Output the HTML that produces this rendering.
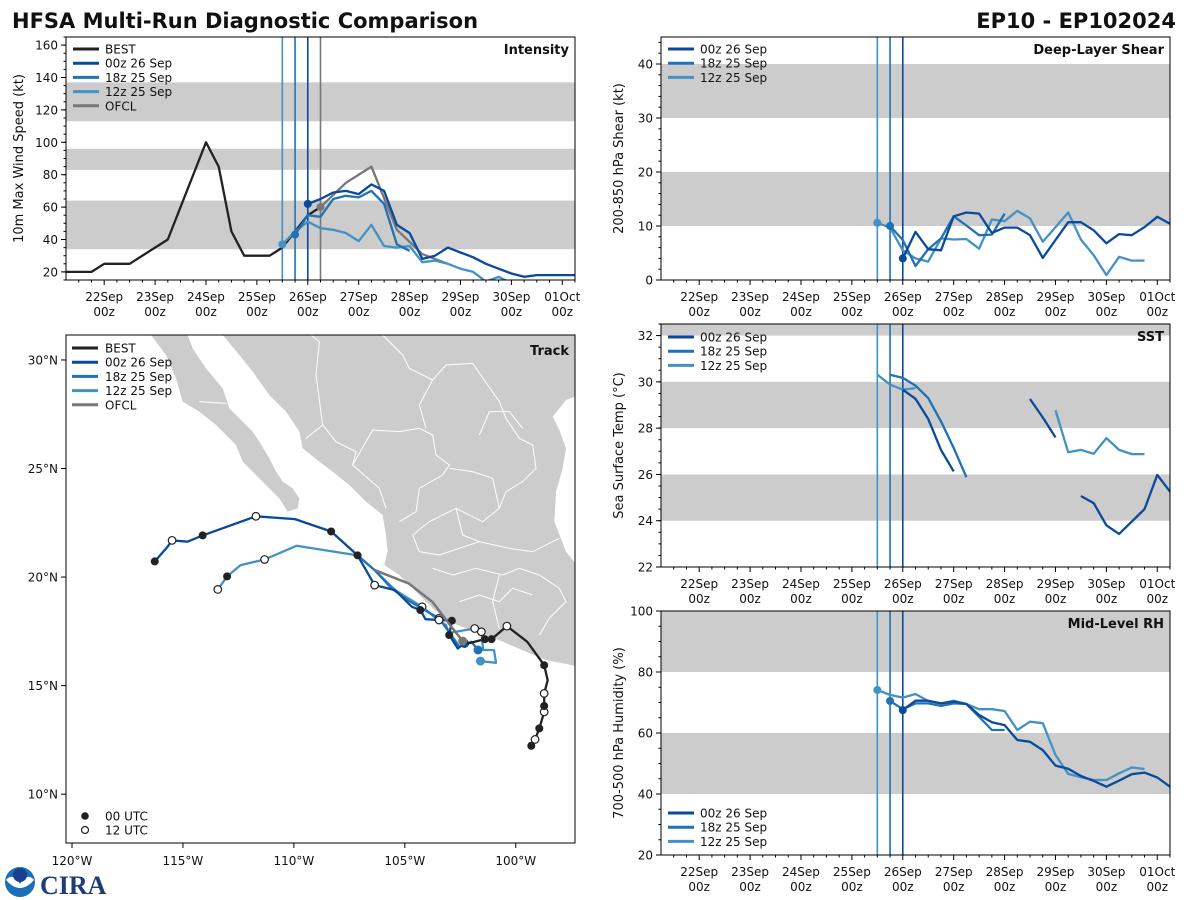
<!DOCTYPE html>
<html><head><meta charset="utf-8"><style>
html,body{margin:0;padding:0;background:#fff;}
svg{display:block;font-family:"DejaVu Sans","Liberation Sans",sans-serif;}
</style></head><body>
<svg id="fig" width="1200" height="900" viewBox="0 0 1200 900" xmlns="http://www.w3.org/2000/svg">
<text x="12" y="28" font-size="21" font-weight="bold" fill="#111">HFSA Multi-Run Diagnostic Comparison</text>
<text x="1176" y="28" font-size="21" font-weight="bold" fill="#111" text-anchor="end">EP10 - EP102024</text>
<g>
<circle cx="20" cy="882" r="15" fill="#1a6fb8"/>
<path d="M6 880 Q20 896 34 880 Q27 872 20 884 Q13 872 6 880Z" fill="#fff"/>
<circle cx="20" cy="875" r="7" fill="#1b3f8f"/>
<text x="40" y="894" font-size="26" font-weight="bold" fill="#1d3c7a" font-family="Liberation Serif,serif">CIRA</text>
</g>
<g id="layers"></g>
</svg>
<script>
// ---------- DATA ----------
const runNames = ["00z 26 Sep","18z 25 Sep","12z 25 Sep"];
const runColors = ["#0a4a9b","#2171b5","#4292c6"];
const runInitH = [96,90,84];
const ofclInitH = 102;
const dayLabels = ["22Sep","23Sep","24Sep","25Sep","26Sep","27Sep","28Sep","29Sep","30Sep","01Oct"];

const bestIntH = [-18,-6,0,12,30,48,54,60,66,78,84,96,102];
const bestIntV = [20,20,25,25,40,100,85,45,30,30,35,55,60];
const ofclIntH = [102,114,126,138,150,162];
const ofclIntV = [60,75,85,46,31,25];
const int00H = [96,102,108,114,120,126,132,138,144,150,156,162,168,174,180,186,192,198,204,222];
const int00V = [62,65,69,70,68,74,70,49,44,28,30,35,32,29,25,22,19,17,18,18];
const int18H = [90,96,102,108,114,120,126,132,138,144];
const int18V = [43,55,54,65,67,66,70,62,37,33];
const int12H = [84,90,96,102,108,114,120,126,132,138,144,150,156,162,168,174,180,186,192];
const int12V = [37,45,51,47,46,44,39,49,36,35,36,26,27,25,22,20,14,17,13];

const shr00H = [96,102,108,114,120,126,132,138,144,150,156,162,168,174,180,186,192,198,204,210,216,222];
const shr00V = [4.0,8.9,5.7,5.5,11.8,12.5,12.3,8.7,9.7,9.7,8.3,4.1,7.4,10.7,10.7,9.2,6.8,8.5,8.3,9.8,11.7,10.4];
const shr18H = [90,96,102,108,114,120,126,132,138,144];
const shr18V = [10.0,7.4,2.6,5.7,7.7,11.8,10.1,8.3,8.4,12.3];
const shr12H = [84,90,96,102,108,114,120,126,132,138,144,150,156,162,168,174,180,186,192,198,204,210];
const shr12V = [10.6,9.7,5.5,4.0,3.4,7.7,7.5,7.6,5.8,11.2,10.9,12.8,11.4,7.1,9.8,12.5,7.5,4.6,0.9,4.3,3.6,3.6];

const sst00H = [96,102,108,114,120,126,132,138,144,150,156,162,168,174,180,186,192,198,204,210,216,222];
const sst00V = [29.66,29.27,28.4,27.06,26.13,null,null,null,null,null,29.26,28.46,27.6,null,25.07,24.76,23.8,23.43,23.96,24.5,25.98,25.26];
const sst18H = [90,96,102,108,114,120,126];
const sst18V = [30.31,30.17,29.84,29.3,28.29,27.14,25.88];
const sst12H = [84,90,96,102,108,114,120,126,132,138,144,150,156,162,168,174,180,186,192,198,204,210];
const sst12V = [30.31,29.88,29.66,29.73,null,null,null,null,null,null,null,null,null,null,28.77,26.96,27.06,26.89,27.57,27.06,26.88,26.88];

const rh00H = [96,102,108,114,120,126,132,138,144,150,156,162,168,174,180,186,192,198,204,210,216,222];
const rh00V = [67.5,70.6,70.6,69.7,70.3,69.5,65.9,63.5,62.6,57.7,57.1,54.4,49.3,48.3,45.9,44.3,42.4,44.4,46.5,47,45.4,42.4];
const rh18H = [90,96,102,108,114,120,126,132,138,144];
const rh18V = [70.5,67.8,69.7,69.7,68.9,69.7,69.5,65.3,61,61];
const rh12H = [84,90,96,102,108,114,120,126,132,138,144,150,156,162,168,174,180,186,192,198,204,210];
const rh12V = [74.1,72.5,71.6,72.8,70.5,69.7,70.6,69.5,67.8,67.8,67.2,61,63.7,63.2,52.8,46.6,45.5,44.6,44.6,46.8,48.7,48.2];

const bestLon = [-99.30,-99.13,-98.94,-98.72,-98.72,-98.72,-98.56,-98.72,-99.48,-100.4,-101.09,-101.39,-102.16,-102.39];
const bestLat = [12.23,12.52,13.03,13.79,14.06,14.64,15.25,15.94,17.02,17.74,17.14,17.14,16.94,17.05];
const bestMk = ["f","o","f","o","f","o","","f","","o","f","f","","f"];
const trk00Lon = [-102.31,-102.61,-103.0,-102.88,-103.46,-104.07,-104.30,-104.68,-105.44,-106.36,-107.13,-108.32,-109.95,-111.71,-114.11,-114.8,-115.49,-115.69,-116.27];
const trk00Lat = [16.94,16.71,17.33,17.99,18.02,18.06,18.48,18.63,19.4,19.63,21.0,22.1,22.67,22.8,21.92,21.63,21.69,21.4,20.72];
const trk00Mk = ["s","","f","f","o","","f","","","o","f","f","","o","f","","o","","f"];
const trk18Lon = [-101.7,-102.0,-102.54,-103.07,-103.46,-104.37,-104.99,-105.6,-106.36,-107.13];
const trk18Lat = [16.64,17.02,16.79,17.56,18.1,18.63,19.02,19.48,20.32,21.0];
const trk18Mk = ["s","","","","o","","","","",""];
const trk12Lon = [-101.59,-100.89,-100.98,-101.47,-101.55,-101.85,-103.0,-103.15,-103.46,-104.22,-105.44,-106.36,-107.13,-109.88,-111.32,-112.4,-113.01,-113.43];
const trk12Lat = [16.13,16.05,16.64,16.64,17.48,17.63,17.43,17.79,17.99,18.63,19.4,20.32,21.0,21.44,20.81,20.55,20.03,19.43];
const trk12Mk = ["s","","","","o","o","","","","o","","","","","o","","f","o"];
const ofclLon = [-102.39,-102.84,-103.76,-104.83,-106.36];
const ofclLat = [17.05,17.63,18.86,19.71,20.32];
const lonTicks = [-120,-115,-110,-105,-100];
const latTicks = [10,15,20,25,30];

// ---------- HELPERS ----------
const NS = "http://www.w3.org/2000/svg";
const root = document.getElementById("layers");
function mk(tag, attrs, parent){
  const e = document.createElementNS(NS, tag);
  for (const k in attrs) e.setAttribute(k, attrs[k]);
  (parent||root).appendChild(e);
  return e;
}
function txt(x,y,s,size,parent,anchor,weight){
  const t = mk("text",{x:x,y:y,"font-size":size,fill:"#111","text-anchor":anchor||"start","font-weight":weight||"normal"},parent);
  t.textContent = s;
  return t;
}

function tsPanel(cfg){
  const g = mk("g",{});
  
  
  const X0=cfg.x0,X1=cfg.x1,Y0=cfg.y0,Y1=cfg.y1;
  const xs = h => X0 + (h + 18) * (X1 - X0) / 240;
  const ys = v => Y1 - (v - cfg.ymin) * (Y1 - Y0) / (cfg.ymax - cfg.ymin);
  const cid = "clip-" + cfg.name;
  const cp = mk("clipPath",{id:cid},g);
  mk("rect",{x:X0,y:Y0,width:X1-X0,height:Y1-Y0},cp);
  cfg.bands.forEach(b=>{
    const r = mk("rect",{x:X0,y:ys(Math.min(b[1],cfg.ymax)),width:X1-X0,height:ys(b[0])-ys(Math.min(b[1],cfg.ymax)),fill:"#cccccc"},g);
    
    
  });
  const inner = mk("g",{"clip-path":"url(#"+cid+")"},g);
  // init lines
  const vl = cfg.vlines;
  vl.forEach(v=>{
    const l = mk("line",{x1:xs(v[0]),x2:xs(v[0]),y1:Y0,y2:Y1,stroke:v[1],"stroke-width":1.6},inner);
    
    
  });
  cfg.series.forEach(s=>{
    let d="", pen=false;
    s.h.forEach((h,i)=>{
      const v=s.v[i];
      if(v===null||v===undefined){pen=false;return;}
      d += (pen?"L":"M") + xs(h).toFixed(1) + " " + ys(v).toFixed(1) + " ";
      pen=true;
    });
    const p = mk("path",{d:d,fill:"none",stroke:s.c,"stroke-width":2.3,"stroke-linejoin":"round"},inner);
    
    
    if(s.dot){
      const c = mk("circle",{cx:xs(s.h[0]),cy:ys(s.v[0]),r:4,fill:s.c},inner);
      
      
    }
  });
  mk("rect",{x:X0,y:Y0,width:X1-X0,height:Y1-Y0,fill:"none",stroke:"#000","stroke-width":1},g);
  // x ticks
  for(let h=-12; h<=222; h+=6){
    const major = h%24===0;
    mk("line",{x1:xs(h),x2:xs(h),y1:Y1,y2:Y1+(major?5:2.5),stroke:"#000","stroke-width":1},g);
  }
  dayLabels.forEach((lab,i)=>{
    const t1 = txt(xs(i*24),Y1+21,lab,12,g,"middle");
    
    
    const t2 = txt(xs(i*24),Y1+36,"00z",12,g,"middle");
    
    
  });
  // y ticks
  for(let v=cfg.ymin; v<=cfg.ymax+1e-6; v+=cfg.minor){
    const vv=Math.round(v*100)/100;
    if(vv<cfg.ymin) continue;
    mk("line",{x1:X0-2.5,x2:X0,y1:ys(vv),y2:ys(vv),stroke:"#000","stroke-width":1},g);
  }
  cfg.yticks.forEach(v=>{
    mk("line",{x1:X0-5,x2:X0,y1:ys(v),y2:ys(v),stroke:"#000","stroke-width":1},g);
    const t = txt(X0-8,ys(v)+4.5,String(v),12,g,"end");
    
    
  });
  const yl = txt(0,0,cfg.ylabel,13,g,"middle");
  yl.setAttribute("transform","translate("+(cfg.ylx)+","+((Y0+Y1)/2)+") rotate(-90)");
  
  
  const tt = txt(X1-6,Y0+17,cfg.title,13,g,"end","bold");
  
  
  // legend
  cfg.legend.forEach((e,i)=>{
    const ly = cfg.legY + i*14.2;
    const lg = mk("g",{},g);
    
    
    mk("line",{x1:X0+7,x2:X0+33,y1:ly,y2:ly,stroke:e[1],"stroke-width":3},lg);
    txt(X0+39,ly+4.5,e[0],12,lg,"start");
  });
}

const vlines3 = [[84,runColors[2]],[90,runColors[1]],[96,runColors[0]]];
const runLegend = runNames.map((n,i)=>[n,runColors[i]]);

tsPanel({name:"intensity-panel",x0:66,x1:575,y0:37,y1:280,ymin:15,ymax:165,
  yticks:[20,40,60,80,100,120,140,160],minor:5,bands:[[34,64],[83,96],[113,137]],
  ylabel:"10m Max Wind Speed (kt)",ylx:23,title:"Intensity",
  vlines:vlines3.concat([[102,"#777"]]),legY:49,
  legend:[["BEST","#222"]].concat(runLegend,[["OFCL","#777"]]),
  series:[
    {id:"best",h:bestIntH,v:bestIntV,c:"#222"},
    {id:"ofcl",h:ofclIntH,v:ofclIntV,c:"#777",dot:true},
    {id:"run-12z25",h:int12H,v:int12V,c:runColors[2],dot:true},
    {id:"run-18z25",h:int18H,v:int18V,c:runColors[1],dot:true},
    {id:"run-00z26",h:int00H,v:int00V,c:runColors[0],dot:true}]});

tsPanel({name:"shear-panel",x0:661,x1:1170,y0:37,y1:280,ymin:0,ymax:45,
  yticks:[0,10,20,30,40],minor:2,bands:[[10,20],[30,40]],
  ylabel:"200-850 hPa Shear (kt)",ylx:623,title:"Deep-Layer Shear",
  vlines:vlines3,legY:49,legend:runLegend,
  series:[
    {id:"run-12z25",h:shr12H,v:shr12V,c:runColors[2],dot:true},
    {id:"run-18z25",h:shr18H,v:shr18V,c:runColors[1],dot:true},
    {id:"run-00z26",h:shr00H,v:shr00V,c:runColors[0],dot:true}]});

tsPanel({name:"sst-panel",x0:661,x1:1170,y0:324,y1:567,ymin:22,ymax:32.5,
  yticks:[22,24,26,28,30,32],minor:0.5,bands:[[24,26],[28,30],[32,33]],
  ylabel:"Sea Surface Temp (°C)",ylx:623,title:"SST",
  vlines:vlines3,legY:337,legend:runLegend,
  series:[
    {id:"run-12z25",h:sst12H,v:sst12V,c:runColors[2]},
    {id:"run-18z25",h:sst18H,v:sst18V,c:runColors[1]},
    {id:"run-00z26",h:sst00H,v:sst00V,c:runColors[0]}]});

tsPanel({name:"rh-panel",x0:661,x1:1170,y0:611,y1:855,ymin:20,ymax:100,
  yticks:[20,40,60,80,100],minor:5,bands:[[40,60],[80,100]],
  ylabel:"700-500 hPa Humidity (%)",ylx:623,title:"Mid-Level RH",
  vlines:vlines3,legY:813,legend:runLegend,
  series:[
    {id:"run-12z25",h:rh12H,v:rh12V,c:runColors[2],dot:true},
    {id:"run-18z25",h:rh18H,v:rh18V,c:runColors[1],dot:true},
    {id:"run-00z26",h:rh00H,v:rh00V,c:runColors[0],dot:true}]});

// ---------- TRACK MAP ----------
(function(){
  const X0=66,X1=575,Y0=335,Y1=843;
  const lonMin=-120.27,lonMax=-97.33,latMin=7.75,latMax=31.15;
  const xs = lon => X0 + (lon-lonMin)*(X1-X0)/(lonMax-lonMin);
  const ys = lat => Y1 - (lat-latMin)*(Y1-Y0)/(latMax-latMin);
  const g = mk("g",{});
  
  
  const cp = mk("clipPath",{id:"clip-track"},g);
  mk("rect",{x:X0,y:Y0,width:X1-X0,height:Y1-Y0},cp);
  const inner = mk("g",{"clip-path":"url(#clip-track)"},g);
  const land = mk("g",{transform:"translate(66,335) scale(0.33333)"},inner);
  
  
  mk("path",{fill:"#cccccc",stroke:"none",d:"M470 0 L520 60 L560 110 L610 180 L660 230 L700 290 L710 340 L760 380 L800 410 L850 450 L900 500 L950 540 L960 600 L965 650 L955 690 L1000 720 L1050 770 L1100 820 L1150 860 L1200 880 L1260 900 L1310 920 L1380 950 L1440 975 L1540 995 L1540 700 L1500 650 L1465 560 L1470 470 L1490 400 L1500 340 L1480 285 L1460 245 L1500 195 L1540 180 L1540 0 Z"},land);
  mk("path",{fill:"#cccccc",stroke:"none",d:"M255 0 L300 60 L330 130 L350 200 L400 230 L450 270 L510 330 L530 380 L560 410 L600 450 L640 490 L665 530 L695 520 L700 490 L680 460 L650 440 L630 410 L610 370 L580 320 L560 290 L530 260 L490 220 L470 160 L420 100 L380 40 L365 0 Z"},land);
  mk("path",{fill:"none",stroke:"#fff","stroke-width":3,d:"M735 0 L760 20 L750 120 L770 270 L720 310 M770 270 L810 320 L870 350 L860 390 L940 460 L960 520 M860 390 L920 285 L1000 290 L1060 280 L1100 300 L1110 360 L1150 390 L1130 420 L1060 460 L1050 530 L1000 560 M950 0 L1010 60 L1030 100 L1100 135 L1140 90 L1220 85 L1300 200 L1320 250 L1360 310 L1400 330 L1410 400 L1370 440 L1320 470 L1300 520 M1100 135 L1060 210 L1080 280 M1240 300 L1270 230 L1330 230 L1370 280 M1150 400 L1220 410 L1280 430 L1300 520 L1250 560 L1170 520 L1090 560 L1040 600 L1060 650 M1170 520 L1190 600 L1240 620 L1330 640 L1400 650 L1480 610 M1100 700 L1160 720 L1230 700 L1310 720 L1360 700 L1420 720 L1480 760 L1500 800 L1450 850 L1420 900 M1180 800 L1240 780 L1300 800 L1340 760 L1400 780 M1060 650 L1120 660 L1180 640 L1240 620 M1300 720 L1280 800 L1300 880 M400 200 L480 205"},land);
  function track(id,lon,lat,color,mkArr,w){
    let d="";
    lon.forEach((v,i)=>{ d += (i?"L":"M") + xs(v).toFixed(1) + " " + ys(lat[i]).toFixed(1) + " "; });
    const p = mk("path",{d:d,fill:"none",stroke:color,"stroke-width":w||2.3,"stroke-linejoin":"round"},inner);
    
    
    if(!mkArr) return;
    mkArr.forEach((m,i)=>{
      if(!m) return;
      let attrs;
      if(m==="f") attrs={cx:xs(lon[i]),cy:ys(lat[i]),r:4,fill:"#222"};
      else if(m==="o") attrs={cx:xs(lon[i]),cy:ys(lat[i]),r:3.8,fill:"#fff",stroke:"#222","stroke-width":1.2};
      else attrs={cx:xs(lon[i]),cy:ys(lat[i]),r:4.5,fill:color};
      const c = mk("circle",attrs,inner);
      
      
    });
  }
  track("run-12z25",trk12Lon,trk12Lat,runColors[2],trk12Mk);
  track("run-18z25",trk18Lon,trk18Lat,runColors[1],trk18Mk);
  track("run-00z26",trk00Lon,trk00Lat,runColors[0],trk00Mk);
  track("ofcl",ofclLon,ofclLat,"#777",null,2.5);
  track("best",bestLon,bestLat,"#222",bestMk);
  const oc = mk("circle",{cx:xs(ofclLon[0]),cy:ys(ofclLat[0]),r:4.5,fill:"#777"},inner);
  
  
  mk("rect",{x:X0,y:Y0,width:X1-X0,height:Y1-Y0,fill:"none",stroke:"#000","stroke-width":1},g);
  lonTicks.forEach(v=>{
    mk("line",{x1:xs(v),x2:xs(v),y1:Y1,y2:Y1+5,stroke:"#000"},g);
    const t = txt(xs(v),Y1+22,Math.abs(v)+"°W",12,g,"middle");
    
    
  });
  latTicks.forEach(v=>{
    mk("line",{x1:X0-5,x2:X0,y1:ys(v),y2:ys(v),stroke:"#000"},g);
    const t = txt(X0-8,ys(v)+4.5,v+"°N",12,g,"end");
    
    
  });
  const tt = txt(X1-6,Y0+20,"Track",13,g,"end","bold");
  
  
  const leg = [["BEST","#222"]].concat(runNames.map((n,i)=>[n,runColors[i]]),[["OFCL","#777"]]);
  leg.forEach((e,i)=>{
    const ly = Y0+13+i*14.2;
    const lg = mk("g",{},g);
    
    
    mk("line",{x1:X0+6,x2:X0+32,y1:ly,y2:ly,stroke:e[1],"stroke-width":3},lg);
    txt(X0+39,ly+4.5,e[0],12,lg,"start");
  });
  [["00 UTC","f",816],["12 UTC","o",830]].forEach(e=>{
    const lg = mk("g",{},g);
    
    
    if(e[1]==="f") mk("circle",{cx:X0+19,cy:e[2],r:3.8,fill:"#222"},lg);
    else mk("circle",{cx:X0+19,cy:e[2],r:3.5,fill:"#fff",stroke:"#222","stroke-width":1.2},lg);
    txt(X0+39,e[2]+4.5,e[0],12,lg,"start");
  });
})();
</script>
</body></html>
